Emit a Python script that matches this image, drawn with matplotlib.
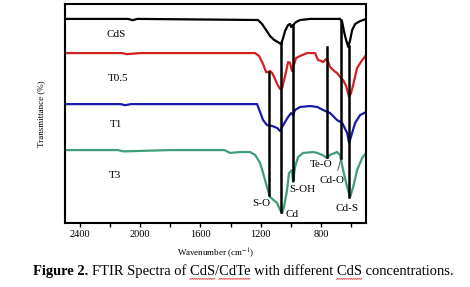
"""FTIR spectra of CdS/CdTe samples, stacked."""
import numpy as np
import matplotlib
matplotlib.use("Agg")
import matplotlib.pyplot as plt
from matplotlib.ticker import FixedLocator, FuncFormatter

plt.rcParams["font.family"] = ["Liberation Serif", "DejaVu Serif"]
plt.rcParams["mathtext.fontset"] = "stix"

# wavenumber (cm-1) / transmittance (%, stacked offsets)
cds_wn = [2500, 2080, 2050, 2020, 1218, 1191, 1164, 1138, 1111, 1085, 1065, 1051,
          1038, 1018, 1005, 998, 985, 965, 938, 872, 673, 659, 646, 633, 619, 606,
          593, 573, 540, 500]
cds_t = [93.2, 93.2, 92.6, 93.2, 92.7, 90.9, 88.1, 85.4, 83.6, 82.6, 81.7, 84.5,
         87.7, 90.4, 90.9, 89.5, 90.4, 91.8, 92.7, 93.2, 93.2, 91.8, 87.2, 83.6, 80.4,
         83.6, 88.1, 90.9, 92.2, 93.2]

t05_wn = [2500, 2120, 2090, 2000, 1237, 1211, 1184, 1164, 1151, 1138, 1124, 1111,
          1091, 1071, 1058, 1038, 1018, 1005, 992, 978, 965, 938, 892, 839, 819,
          799, 786, 766, 752, 739, 712, 693, 673, 653, 633, 613, 600, 586, 560, 526, 500]
t05_t = [77.6, 77.6, 77.1, 77.6, 77.6, 76.3, 72.6, 68.9, 68.9, 69.4, 68.5, 66.7,
         63.5, 61.2, 61.6, 67.1, 73.5, 73.1, 69.4, 72.6, 75.3, 76.3, 77.6, 77.6, 74.4,
         74.0, 73.5, 74.9, 73.5, 71.2, 69.4, 68.5, 66.7, 65.3, 62.6, 57.5, 59.4, 63.0,
         70.8, 74.4, 76.7]

t1_wn = [2500, 2130, 2100, 2060, 1224, 1184, 1158, 1124, 1091, 1071, 1051, 1018,
         998, 985, 972, 938, 872, 825, 786, 739, 693, 659, 626, 613, 593, 573, 540, 500]
t1_t = [54.3, 54.3, 53.8, 54.3, 54.3, 47.0, 44.7, 44.3, 43.4, 42.0, 44.7, 48.4,
        50.2, 49.3, 51.6, 53.0, 53.4, 53.0, 51.6, 50.2, 47.0, 45.7, 41.1, 36.5, 41.1,
        45.7, 49.3, 50.7]

t3_wn = [2500, 2150, 2110, 1800, 1440, 1404, 1337, 1271, 1237, 1204, 1184, 1158,
         1138, 1091, 1071, 1058, 1045, 1025, 1012, 992, 985, 972, 952, 918, 852, 825,
         792, 759, 739, 693, 673, 653, 626, 606, 586, 560, 526, 500]
t3_t = [33.3, 33.3, 32.7, 33.3, 33.3, 32.0, 32.4, 32.4, 31.1, 27.4, 22.8, 16.4,
        11.9, 9.1, 5.9, 4.6, 7.3, 15.1, 22.8, 24.2, 18.7, 25.6, 30.1, 32.0, 32.4, 32.0,
        31.1, 29.7, 31.1, 32.4, 31.1, 24.2, 16.4, 11.9, 16.4, 24.2, 29.7, 32.0]

series = [("CdS", cds_wn, cds_t, "black"),
          ("T0.5", t05_wn, t05_t, "#d42020"),
          ("T1", t1_wn, t1_t, "#1a1aaa"),
          ("T3", t3_wn, t3_t, "#3f9e78")]
label_pos = [(2161, 86.3), (2148, 66.2), (2161, 45.2), (2168, 21.9)]

# band markers: position, top, bottom of the drop line
band_names = ["S-O", "Cd", "S-OH", "Te-O", "Cd-O", "Cd-S"]
band_wn = [1144, 1065, 985, 759, 666, 613]
band_top = [68.9, 82.2, 90.4, 80.4, 92.7, 80.8]
band_bot = [12.8, 5.0, 19.6, 30.1, 29.7, 11.9]
band_label_xy = [(1198, 9.1), (992, 4.1), (925, 15.5), (799, 26.9), (726, 19.2), (626, 6.8)]

fig = plt.figure(figsize=(4.7, 2.87), dpi=100)
ax = fig.add_axes([0.138, 0.223, 0.641, 0.763])

for (name, wn, t, col), (lx, ly) in zip(series, label_pos):
    ax.plot(wn, t, color=col, lw=1.6, solid_joinstyle="round")
    ax.text(lx, ly, name, fontsize=8, ha="center", va="center")

for w, top, bot in zip(band_wn, band_top, band_bot):
    ax.plot([w, w], [bot, top], color="black", lw=1.8)

for name, (lx, ly) in zip(band_names, band_label_xy):
    ax.text(lx, ly, name, fontsize=8, ha="center", va="center")

# little pointer from the Cd-O label to its line
ax.annotate("", xy=(666, 29.7), xytext=(693, 22.8),
            arrowprops=dict(arrowstyle="-", color="#555555", lw=0.7))

ax.set_xlim(2500, 500)
ax.set_ylim(0, 100)
ax.xaxis.set_major_locator(FixedLocator([2400, 2200, 2000, 1800, 1600, 1400, 1200, 1000, 800, 600]))
ax.xaxis.set_major_formatter(FuncFormatter(lambda v, p: f"{int(v)}" if v % 400 == 0 else ""))
ax.tick_params(axis="x", direction="out", length=3, width=1, labelsize=7.5, pad=2)
ax.set_yticks([])
for s in ax.spines.values():
    s.set_linewidth(1.5)

ax.set_xlabel("Wavenumber (cm$^{-1}$)", fontsize=6.5, labelpad=5)
ax.set_ylabel("Transmittance (%)", fontsize=6.5, labelpad=14)

# caption: bold "Figure 2." followed by the plain sentence
cap_fs = 10.45
cap_y = 0.055
rest = "FTIR Spectra of CdS/CdTe with different CdS concentrations."
r = fig.canvas.get_renderer()
t_bold = fig.text(33 / 470, cap_y, "Figure 2.", fontsize=cap_fs, fontweight="bold", va="center")
bx = t_bold.get_window_extent(r).x1 + 3.5
t_rest = fig.text(bx / 470, cap_y, rest, fontsize=cap_fs, va="center")
y_base = t_rest.get_window_extent(r).y0


def text_w(s):
    tmp = fig.text(0, 0, s, fontsize=cap_fs)
    w = tmp.get_window_extent(r).width
    tmp.remove()
    return w


# red spell-check squiggles under the flagged words
for prefix, word in [("FTIR Spectra of ", "CdS"), ("FTIR Spectra of CdS/", "CdTe"),
                     ("FTIR Spectra of CdS/CdTe with different ", "CdS")]:
    x1 = bx + text_w(prefix + word)
    x0 = x1 - text_w(word)
    xs = np.arange(x0, x1 + 0.1, 1.0)
    ys = y_base - 1.2 + 0.8 * (np.arange(len(xs)) % 2)
    fig.add_artist(plt.Line2D(xs / 470, ys / 287, color="#e03030", lw=0.6))

fig.savefig("out.png", dpi=100)
